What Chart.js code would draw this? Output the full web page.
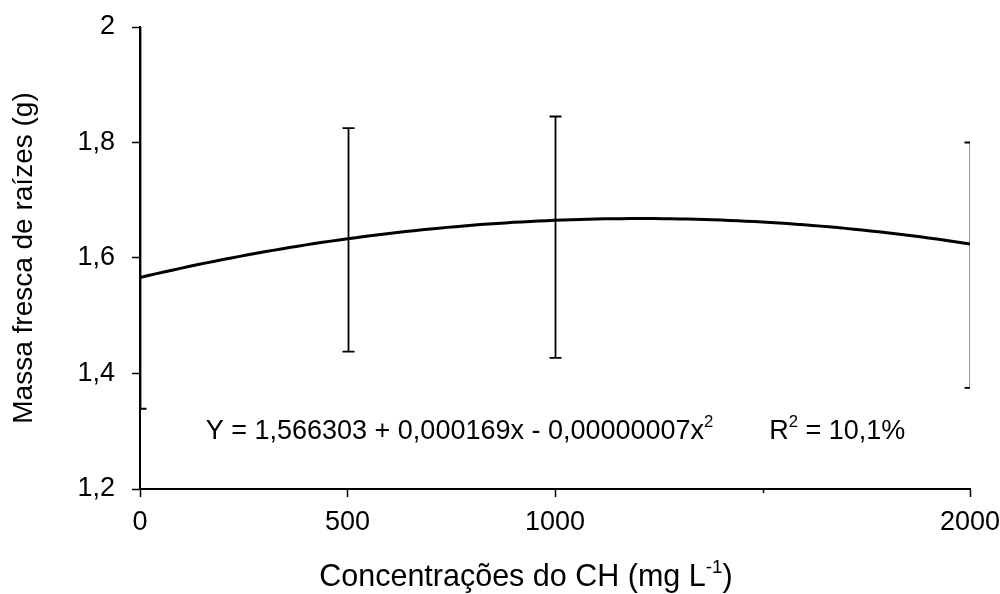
<!DOCTYPE html>
<html>
  <head>
    <meta charset="utf-8">
    <title>Massa fresca de raízes</title>
    <script src="https://cdn.jsdelivr.net/npm/chart.js@4.4.1/dist/chart.umd.min.js"></script>
    <style>
      html, body { margin: 0; padding: 0; background: #fff; }
      #chart { display: block; }
    </style>
  </head>
  <body>
    <canvas id="chart" width="1000" height="594"></canvas>
    <script>
      // concentrations (mg L-1) and error bar limits
      var concX = [0, 500, 1000, 2000];
      var errLow = [1.339, 1.438, 1.427, 1.375];
      var errHigh = [2.03, 1.825, 1.845, 1.80];

      // fitted model: Y = b0 + b1 x + b2 x^2
      var coef = [1.566303, 0.000169, -0.00000007];
      var fitText = ['Y = 1,566303 + 0,000169x - 0,00000007x', '2'];
      var r2Text = ['R', '2', ' = 10,1%'];

      var xTicks = [0, 500, 1000, 1500, 2000];
      var xTickLabels = ['0', '500', '1000', '', '2000'];
      var yTicks = [1.2, 1.4, 1.6, 1.8, 2.0];
      var yTickLabels = ['1,2', '1,4', '1,6', '1,8', '2'];

      var xTitle = ['Concentrações do CH (mg L', '-1', ')'];
      var yTitle = 'Massa fresca de raízes (g)';

      var FONT = '"Liberation Sans", Arial, sans-serif';
      var SIZE = 27;

      var curve = [];
      for (var x = 0; x <= 2000; x += 20) {
        curve.push({ x: x, y: coef[0] + coef[1] * x + coef[2] * x * x });
      }

      // draws pieces of text, some raised as superscripts
      function drawParts(ctx, parts, sup, cx, cy, size) {
        var widths = parts.map(function (p, i) {
          ctx.font = (sup[i] ? size * 0.62 : size) + 'px ' + FONT;
          return ctx.measureText(p).width;
        });
        var total = widths.reduce(function (a, b) { return a + b; }, 0);
        var x = cx - total / 2;
        ctx.textAlign = 'left';
        ctx.textBaseline = 'middle';
        parts.forEach(function (p, i) {
          ctx.font = (sup[i] ? size * 0.62 : size) + 'px ' + FONT;
          ctx.fillText(p, x, sup[i] ? cy - size * 0.32 : cy);
          x += widths[i];
        });
        return total;
      }

      var extras = {
        id: 'extras',
        afterDatasetsDraw: function (chart) {
          var ctx = chart.ctx;
          var xs = chart.scales.x, ys = chart.scales.y;
          var area = chart.chartArea;

          // error bars, clipped to the plot area
          ctx.save();
          ctx.beginPath();
          ctx.rect(area.left, area.top, area.right - area.left, area.bottom - area.top);
          ctx.clip();
          ctx.strokeStyle = '#000';
          ctx.lineWidth = 1.8;
          concX.forEach(function (c, i) {
            var px = Math.round(xs.getPixelForValue(c)) + 0.5;
            var lo = ys.getPixelForValue(errLow[i]);
            var hi = ys.getPixelForValue(errHigh[i]);
            ctx.beginPath();
            ctx.moveTo(px, lo);
            ctx.lineTo(px, hi);
            ctx.moveTo(px - 6, lo);
            ctx.lineTo(px + 6, lo);
            ctx.moveTo(px - 6, hi);
            ctx.lineTo(px + 6, hi);
            ctx.stroke();
          });
          ctx.restore();

          // short unlabeled tick at 1500
          ctx.save();
          ctx.strokeStyle = '#000';
          ctx.lineWidth = 1.5;
          var t = Math.round(xs.getPixelForValue(xTicks[3])) + 0.5;
          ctx.beginPath();
          ctx.moveTo(t, area.bottom);
          ctx.lineTo(t, area.bottom + 4);
          ctx.stroke();

          // regression equation
          ctx.fillStyle = '#000';
          var ey = ys.getPixelForValue(1.3);
          drawParts(ctx, fitText, [false, true], xs.getPixelForValue(770), ey, SIZE);
          drawParts(ctx, r2Text, [false, true, false], xs.getPixelForValue(1680), ey, SIZE);

          // x axis title
          drawParts(ctx, xTitle, [false, true, false], area.left + (area.right - area.left) * 0.465, 578, 30.5);
          ctx.restore();
        }
      };

      // let tick labels overhang the plot instead of shrinking it
      function noOverhang(s) {
        s.paddingTop = 0;
        s.paddingBottom = 0;
        s.paddingLeft = 0;
        s.paddingRight = 0;
      }

      new Chart(document.getElementById('chart'), {
        type: 'line',
        data: {
          datasets: [{
            data: curve,
            borderColor: '#000',
            borderWidth: 3,
            pointRadius: 0,
            fill: false,
            tension: 0
          }]
        },
        options: {
          responsive: false,
          animation: false,
          layout: { padding: { top: 27, right: 30, left: 0, bottom: 0 } },
          plugins: { legend: { display: false }, tooltip: { enabled: false } },
          scales: {
            x: {
              type: 'linear',
              min: 0,
              max: 2000,
              afterBuildTicks: function (s) { s.ticks = xTicks.map(function (v) { return { value: v }; }); },
              afterFit: function (s) { s.height = 105; noOverhang(s); },
              ticks: {
                autoSkip: false,
                maxRotation: 0,
                padding: 9,
                color: '#000',
                font: { family: FONT, size: SIZE },
                callback: function (v) { return xTickLabels[xTicks.indexOf(v)]; }
              },
              grid: {
                drawOnChartArea: false,
                tickLength: 8,
                tickWidth: 1.5,
                tickColor: function (c) { return c.tick && c.tick.value === xTicks[3] ? 'rgba(0,0,0,0)' : '#000'; }
              },
              border: { color: '#000', width: 2 }
            },
            y: {
              min: 1.2,
              max: 2,
              afterBuildTicks: function (s) { s.ticks = yTicks.map(function (v) { return { value: v }; }); },
              afterFit: function (s) { s.width = 140; noOverhang(s); },
              ticks: {
                padding: 17,
                color: '#000',
                font: { family: FONT, size: SIZE },
                callback: function (v) { return yTickLabels[yTicks.indexOf(v)]; }
              },
              grid: { drawOnChartArea: false, tickLength: 8, tickWidth: 1.5, tickColor: '#000' },
              border: { color: '#000', width: 2 },
              title: {
                display: true,
                text: yTitle,
                color: '#000',
                font: { family: FONT, size: 28 },
                padding: { top: 7, bottom: 0 }
              }
            }
          }
        },
        plugins: [extras]
      });
    </script>
  </body>
</html>
